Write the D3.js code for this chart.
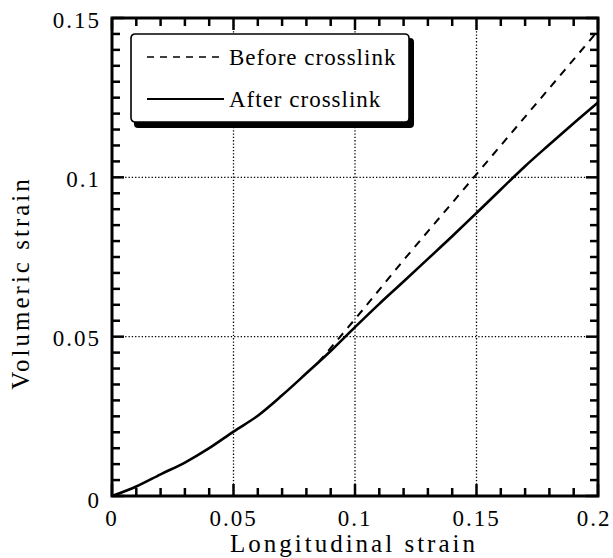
<!DOCTYPE html>
<html>
<head>
<meta charset="utf-8">
<script src="https://cdn.jsdelivr.net/npm/d3@7"></script>
<style>
  body { margin: 0; background: #fff; }
  svg text { font-family: "Liberation Serif", "Times New Roman", serif; fill: #000; }
</style>
</head>
<body>
<div id="chart"></div>
<script>
// data
var strainAfter = [0, 0.01, 0.02, 0.03, 0.04, 0.05, 0.06, 0.07, 0.08, 0.09, 0.10,
    0.11, 0.12, 0.13, 0.14, 0.15, 0.16, 0.17, 0.18, 0.19, 0.20];
var volAfter = [0, 0.003, 0.0068, 0.0105, 0.015, 0.0202, 0.0252, 0.0316, 0.0385, 0.0455, 0.053,
    0.0603, 0.0673, 0.0744, 0.0815, 0.0888, 0.0962, 0.1035, 0.1103, 0.117, 0.1235];
var strainBefore = [0.085, 0.10, 0.12, 0.14, 0.16, 0.18, 0.20];
var volBefore = [0.042, 0.0555, 0.074, 0.092, 0.110, 0.128, 0.146];
var xTicks = [0, 0.05, 0.1, 0.15, 0.2];
var yTicks = [0, 0.05, 0.1, 0.15];
var xMinor = [0, 0.01, 0.02, 0.03, 0.04, 0.05, 0.06, 0.07, 0.08, 0.09, 0.1,
    0.11, 0.12, 0.13, 0.14, 0.15, 0.16, 0.17, 0.18, 0.19, 0.2];
var yMinor = [0, 0.005, 0.01, 0.015, 0.02, 0.025, 0.03, 0.035, 0.04, 0.045, 0.05,
    0.055, 0.06, 0.065, 0.07, 0.075, 0.08, 0.085, 0.09, 0.095, 0.1,
    0.105, 0.11, 0.115, 0.12, 0.125, 0.13, 0.135, 0.14, 0.145, 0.15];
var legendLabels = ["Before crosslink", "After crosslink"];

// set the dimensions and margins of the graph
var margin = {top: 18, right: 15, bottom: 62, left: 112},
    width = 613 - margin.left - margin.right,
    height = 558 - margin.top - margin.bottom;

var svg = d3.select("#chart").append("svg")
    .attr("width", 613)
    .attr("height", 558)
    .append("g")
    .attr("transform", "translate(" + margin.left + "," + margin.top + ")");

var x = d3.scaleLinear().domain([0, 0.2]).range([0, width]);
var y = d3.scaleLinear().domain([0, 0.15]).range([height, 0]);

var fmt = function (d) { return d === 0 ? "0" : String(+d.toFixed(2)); };
// major ticks (every 0.05) are longer than the minor ones
function tickLen(v) { return Math.abs(v / 0.05 - Math.round(v / 0.05)) < 1e-6 ? 12 : 8; }

// dotted grid at inner major ticks
svg.append("g").selectAll("line")
    .data(xTicks.slice(1, -1))
    .enter().append("line")
    .attr("x1", function (d) { return x(d); })
    .attr("x2", function (d) { return x(d); })
    .attr("y1", 0).attr("y2", height)
    .style("stroke", "#000").style("stroke-width", 1.3)
    .style("stroke-dasharray", "1.3,2");
svg.append("g").selectAll("line")
    .data(yTicks.slice(1, -1))
    .enter().append("line")
    .attr("y1", function (d) { return y(d); })
    .attr("y2", function (d) { return y(d); })
    .attr("x1", 0).attr("x2", width)
    .style("stroke", "#000").style("stroke-width", 1.3)
    .style("stroke-dasharray", "1.3,2");

// inward ticks, bottom / top
[height, 0].forEach(function (edge) {
    svg.append("g").selectAll("line")
        .data(xMinor)
        .enter().append("line")
        .attr("x1", function (d) { return x(d); })
        .attr("x2", function (d) { return x(d); })
        .attr("y1", edge)
        .attr("y2", function (d) { return edge === 0 ? tickLen(d) : edge - tickLen(d); })
        .style("stroke", "#000").style("stroke-width", 2.5);
});
// inward ticks, left / right
[0, width].forEach(function (edge) {
    svg.append("g").selectAll("line")
        .data(yMinor)
        .enter().append("line")
        .attr("y1", function (d) { return y(d); })
        .attr("y2", function (d) { return y(d); })
        .attr("x1", edge)
        .attr("x2", function (d) { return edge === 0 ? tickLen(d) : edge - tickLen(d); })
        .style("stroke", "#000").style("stroke-width", 2.5);
});

// frame
svg.append("rect")
    .attr("width", width).attr("height", height)
    .style("fill", "none").style("stroke", "#000").style("stroke-width", 3);

// tick labels
svg.append("g").selectAll("text")
    .data(xTicks)
    .enter().append("text")
    .attr("x", function (d) { return x(d); })
    .attr("dx", function (d, i) { return i === xTicks.length - 1 ? -4 : 0; })
    .attr("y", height + 30)
    .attr("text-anchor", "middle")
    .style("font-size", "23px").style("letter-spacing", "2px")
    .text(fmt);

svg.append("g").selectAll("text")
    .data(yTicks)
    .enter().append("text")
    .attr("x", -11)
    .attr("y", function (d) { return y(d); })
    .attr("dy", function (d, i) { return i === 0 ? "0.5em" : "0.42em"; })
    .attr("text-anchor", "end")
    .style("font-size", "23px").style("letter-spacing", "2px")
    .text(fmt);

// the curves
var line = d3.line()
    .x(function (d) { return x(d[0]); })
    .y(function (d) { return y(d[1]); })
    .curve(d3.curveMonotoneX);

svg.append("path")
    .datum(d3.zip(strainBefore, volBefore))
    .attr("d", line)
    .style("fill", "none").style("stroke", "#000").style("stroke-width", 2)
    .style("stroke-dasharray", "8,7");

svg.append("path")
    .datum(d3.zip(strainAfter, volAfter))
    .attr("d", line)
    .style("fill", "none").style("stroke", "#000").style("stroke-width", 2.6);

// legend box with drop shadow
var lg = svg.append("g").attr("transform", "translate(19,16)");
lg.append("rect")
    .attr("x", 3).attr("y", 4).attr("width", 280).attr("height", 90).attr("rx", 4)
    .style("fill", "#000");
lg.append("rect")
    .attr("x", 0).attr("y", 0).attr("width", 278).attr("height", 88).attr("rx", 4)
    .style("fill", "#fff").style("stroke", "#000").style("stroke-width", 1.6);

lg.selectAll("line")
    .data(legendLabels)
    .enter().append("line")
    .attr("x1", 16).attr("x2", 93)
    .attr("y1", function (d, i) { return 23 + i * 42; })
    .attr("y2", function (d, i) { return 23 + i * 42; })
    .style("stroke", "#000")
    .style("stroke-width", function (d, i) { return i ? 2.2 : 1.5; })
    .style("stroke-dasharray", function (d, i) { return i ? null : "7,6"; });

lg.selectAll("text")
    .data(legendLabels)
    .enter().append("text")
    .attr("x", 98)
    .attr("y", function (d, i) { return 31 + i * 42; })
    .style("font-size", "23px").style("letter-spacing", "1px")
    .text(function (d) { return d; });

// axis titles
svg.append("text")
    .attr("x", width / 2 - 1)
    .attr("y", height + 56)
    .attr("text-anchor", "middle")
    .style("font-size", "25px").style("letter-spacing", "3px")
    .text("Longitudinal strain");

svg.append("text")
    .attr("transform", "translate(-83," + (height / 2 + 26) + ") rotate(-90)")
    .attr("text-anchor", "middle")
    .style("font-size", "25px").style("letter-spacing", "3px")
    .text("Volumeric strain");
</script>
</body>
</html>
